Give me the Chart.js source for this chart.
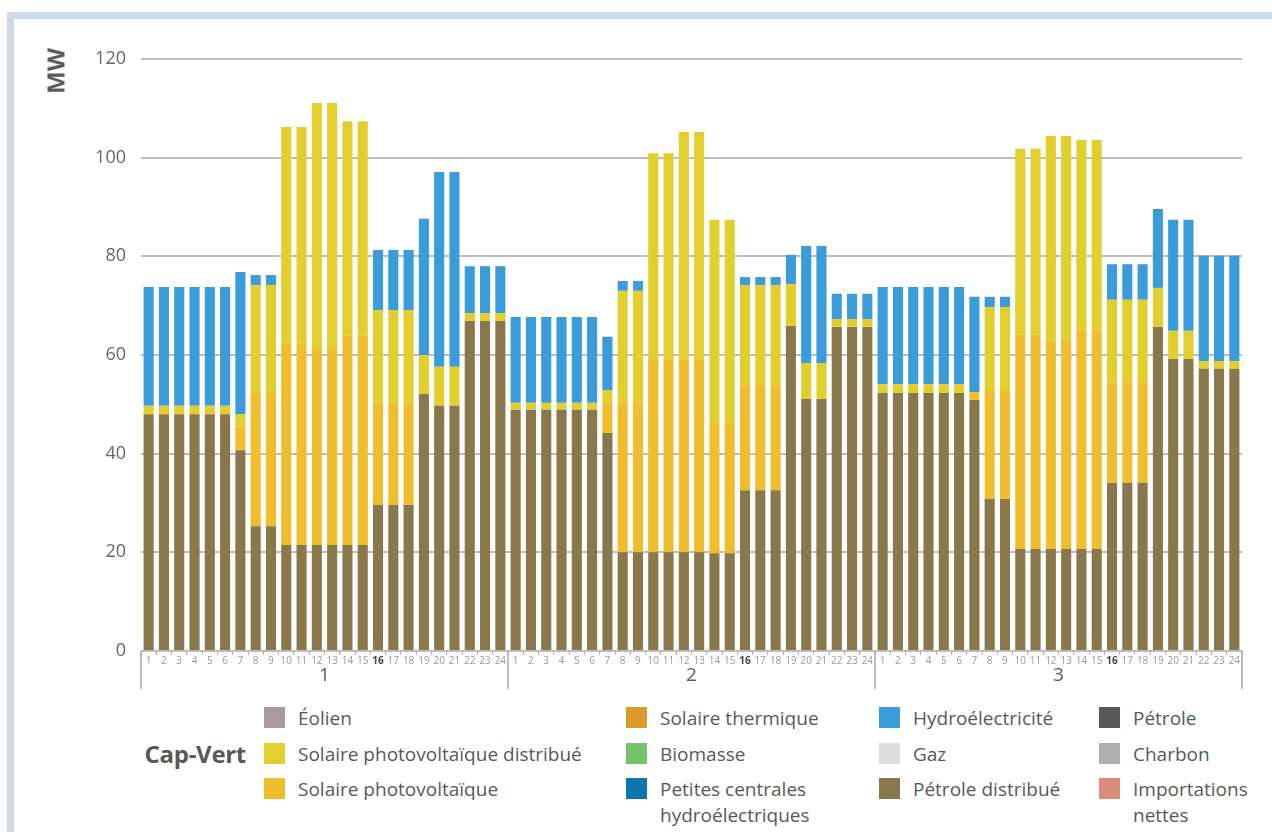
<!DOCTYPE html>
<html lang="fr">
<head>
<meta charset="utf-8">
<script src="https://cdn.jsdelivr.net/npm/chart.js@4"></script>
<style>
  html, body { margin: 0; padding: 0; background: #fff; }
  body { width: 1272px; height: 832px; position: relative; overflow: hidden; font-family: "Open Sans", sans-serif; }
  .frame-top { position: absolute; left: 7px; top: 12px; width: 1265px; height: 7px; background: #cfdae8; }
  .frame-left { position: absolute; left: 7px; top: 12px; width: 7px; height: 820px; background: #cfdae8; }
  #wrap { position: absolute; left: 0; top: 0; width: 1272px; height: 700px; }
  .unit { position: absolute; left: 55px; top: 71px; transform: translate(-50%, -50%) rotate(-90deg);
          font-weight: 700; font-size: 24px; color: #58595b; white-space: nowrap; }
  .country { position: absolute; right: 1026px; top: 753px; transform: translateY(-50%);
             font-weight: 700; font-size: 24px; color: #58595b; letter-spacing: -0.3px; }
  .sq { position: absolute; width: 21px; height: 21px; }
  .lbl { position: absolute; font-size: 19px; line-height: 26px; color: #58595b; white-space: nowrap; }
</style>
</head>
<body>
<div class="frame-top"></div>
<div class="frame-left"></div>
<div id="wrap"><canvas id="chart"></canvas></div>
<div class="unit">MW</div>
<div class="country">Cap-Vert</div>
<div id="legend"></div>

<script>
// hours of the three representative days
const hours = [];
for (let d = 0; d < 3; d++) {
    for (let h = 1; h <= 24; h++) hours.push(String(h));
}
const days = ['1', '2', '3'];

// values (MW), 24 hours x 3 days
const petroleDistribue = [
    48, 48, 48, 48, 48, 48, 40.7, 25.3, 25.3, 21.5, 21.5, 21.5, 21.5, 21.5, 21.5, 29.6, 29.6, 29.6, 52.1, 49.7, 49.7, 66.9, 66.9, 66.9,
    48.9, 48.9, 48.9, 48.9, 48.9, 48.9, 44.2, 20, 20, 20, 20, 20, 20, 19.8, 19.8, 32.6, 32.6, 32.6, 65.9, 51.1, 51.1, 65.7, 65.7, 65.7,
    52.3, 52.3, 52.3, 52.3, 52.3, 52.3, 50.9, 30.8, 30.8, 20.7, 20.7, 20.7, 20.7, 20.7, 20.7, 34.1, 34.1, 34.1, 65.7, 59.2, 59.2, 57.2, 57.2, 57.2
];
const solairePV = [
    0, 0, 0, 0, 0, 0, 4.6, 27, 27, 40.9, 40.9, 39.9, 39.9, 42.4, 42.4, 20.5, 20.5, 20.5, 0, 0, 0, 0, 0, 0,
    0, 0, 0, 0, 0, 0, 6.1, 30.3, 30.3, 39, 39, 39, 39, 26.2, 26.2, 21.1, 21.1, 21.1, 0, 0, 0, 0, 0, 0,
    0, 0, 0, 0, 0, 0, 1.6, 22.1, 22.1, 43.4, 43.4, 42.3, 42.3, 44.4, 44.4, 20.4, 20.4, 20.4, 0, 0, 0, 0, 0, 0
];
const solairePVDistribue = [
    1.7, 1.7, 1.7, 1.7, 1.7, 1.7, 2.7, 21.9, 21.9, 43.8, 43.8, 49.7, 49.7, 43.5, 43.5, 19, 19, 19, 7.9, 7.9, 7.9, 1.6, 1.6, 1.6,
    1.4, 1.4, 1.4, 1.4, 1.4, 1.4, 2.6, 22.7, 22.7, 41.9, 41.9, 46.2, 46.2, 41.4, 41.4, 20.5, 20.5, 20.5, 8.5, 7.3, 7.3, 1.6, 1.6, 1.6,
    1.8, 1.8, 1.8, 1.8, 1.8, 1.8, 0, 16.8, 16.8, 37.7, 37.7, 41.4, 41.4, 38.5, 38.5, 16.7, 16.7, 16.7, 7.9, 5.7, 5.7, 1.6, 1.6, 1.6
];
const hydro = [
    24.1, 24.1, 24.1, 24.1, 24.1, 24.1, 28.8, 2, 2, 0, 0, 0, 0, 0, 0, 12.2, 12.2, 12.2, 27.6, 39.5, 39.5, 9.5, 9.5, 9.5,
    17.4, 17.4, 17.4, 17.4, 17.4, 17.4, 10.8, 2, 2, 0, 0, 0, 0, 0, 0, 1.6, 1.6, 1.6, 5.9, 23.7, 23.7, 5.1, 5.1, 5.1,
    19.7, 19.7, 19.7, 19.7, 19.7, 19.7, 19.3, 2.1, 2.1, 0, 0, 0, 0, 0, 0, 7.2, 7.2, 7.2, 16, 22.5, 22.5, 21.3, 21.3, 21.3
];
const yTicks = [0, 20, 40, 60, 80, 100, 120];

// legend, column by column
const legendNames = [
    ['Éolien', 'Solaire photovoltaïque distribué', 'Solaire photovoltaïque'],
    ['Solaire thermique', 'Biomasse', 'Petites centrales<br>hydroélectriques'],
    ['Hydroélectricité', 'Gaz', 'Pétrole distribué'],
    ['Pétrole', 'Charbon', 'Importations<br>nettes']
];
const legendColors = [
    ['#a99aa0', '#e2cf2e', '#f0be2c'],
    ['#da9a2c', '#74c26a', '#0e76ae'],
    ['#3a9dd9', '#dcddde', '#89784b'],
    ['#58585a', '#adafb0', '#d98c79']
];

const colX = [264, 626, 879, 1099];
const rowY = [717.5, 753.5, 788.5];
let legendHtml = '';
legendNames.forEach((col, c) => {
    col.forEach((name, r) => {
        legendHtml += `<div class="sq" style="left:${colX[c]}px;top:${rowY[r] - 10.5}px;background:${legendColors[c][r]}"></div>`;
        legendHtml += `<div class="lbl" style="left:${colX[c] + 34}px;top:${rowY[r] - 13}px">${name}</div>`;
    });
});
document.getElementById('legend').innerHTML = legendHtml;

// vertical separators between the days
const daySeparators = {
    id: 'daySeparators',
    afterDraw(chart) {
        const x = chart.scales.x;
        const ctx = chart.ctx;
        const half = (x.getPixelForValue(1) - x.getPixelForValue(0)) / 2;
        ctx.save();
        ctx.strokeStyle = '#ababab';
        ctx.lineWidth = 1.5;
        for (let i = 0; i <= hours.length; i += 24) {
            const px = Math.round(x.getPixelForValue(Math.min(i, hours.length - 1)) + (i === hours.length ? half : -half));
            ctx.beginPath();
            ctx.moveTo(px, chart.chartArea.bottom);
            ctx.lineTo(px, chart.chartArea.bottom + 38);
            ctx.stroke();
        }
        ctx.restore();
    }
};

const bar = (label, data, color) => ({
    label, data, backgroundColor: color, stack: 's', barPercentage: 0.66, categoryPercentage: 1
});

new Chart(document.getElementById('chart'), {
    type: 'bar',
    data: {
        labels: hours,
        datasets: [
            bar('Pétrole distribué', petroleDistribue, '#89784b'),
            bar('Solaire photovoltaïque', solairePV, '#f0be2c'),
            bar('Solaire photovoltaïque distribué', solairePVDistribue, '#e2cf2e'),
            bar('Hydroélectricité', hydro, '#3a9dd9')
        ]
    },
    options: {
        responsive: true,
        maintainAspectRatio: false,
        animation: false,
        layout: { padding: { top: 59, right: 30, left: 0, bottom: 0 } },
        plugins: { legend: { display: false }, tooltip: { enabled: false } },
        scales: {
            x: {
                stacked: true,
                offset: true,
                border: { display: false },
                grid: { drawOnChartArea: false, offset: true, tickLength: 4, color: '#b0b0b0' },
                ticks: {
                    autoSkip: false, maxRotation: 0, padding: 0,
                    font: (c) => ({ family: 'Open Sans', size: 10, weight: c.index % 24 === 15 ? 'bold' : 'normal' }),
                    color: (c) => c.index % 24 === 15 ? '#444' : '#9a9a9a'
                },
                afterFit: (s) => { s.height = 13; }
            },
            x2: {
                type: 'category',
                labels: days,
                position: 'bottom',
                offset: true,
                border: { display: false },
                grid: { display: false, drawTicks: false },
                ticks: { padding: 0, font: { family: 'Open Sans', size: 19 }, color: '#58595b' },
                afterFit: (s) => { s.height = 36; }
            },
            y: {
                stacked: true,
                min: 0,
                max: 120,
                border: { display: false },
                grid: { color: '#bdbdbd', lineWidth: 2, drawTicks: false },
                afterBuildTicks: (s) => { s.ticks = yTicks.map(v => ({ value: v })); },
                ticks: { padding: 15, font: { family: 'Open Sans', size: 18 }, color: '#666' },
                afterFit: (s) => { s.width = 141; }
            }
        }
    },
    plugins: [daySeparators]
});
</script>
</body>
</html>
